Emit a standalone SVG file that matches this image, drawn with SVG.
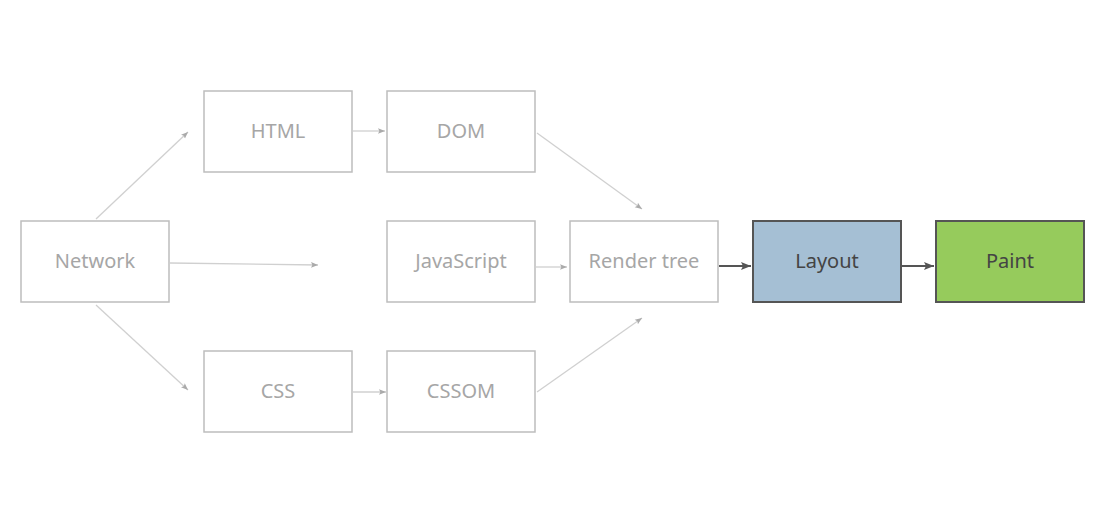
<svg xmlns="http://www.w3.org/2000/svg" width="1105" height="523" viewBox="0 0 1105 523">
<style>
.box{fill:#fff;stroke:#bdbdbd;stroke-width:1.5}
.lbl{font-family:"Noto Sans","Open Sans",sans-serif;font-size:20px;fill:#a6a6a6;text-anchor:middle}
.dk{fill:#444}
.dbox{stroke:#555;stroke-width:2}
.ln{fill:none;stroke:#d0d0d0;stroke-width:1.3;marker-end:url(#al)}
.dl{fill:none;stroke:#555;stroke-width:2;marker-end:url(#ad)}
</style>
<defs>
<marker id="al" viewBox="0 0 10 10" refX="10" refY="5" markerWidth="7" markerHeight="7" orient="auto" markerUnits="userSpaceOnUse"><path d="M0,1 L10,5 L0,9 L2,5 z" fill="#aaa"/></marker>
<marker id="ad" viewBox="0 0 10 10" refX="10" refY="5" markerWidth="10" markerHeight="10" orient="auto" markerUnits="userSpaceOnUse"><path d="M0,1 L10,5 L0,9 L2,5 z" fill="#555"/></marker>
</defs>
<rect width="1105" height="523" fill="#fff"/>
<g id="connectors">
<path class="ln" d="M96,219 L188,132"/>
<path class="ln" d="M170,263 L318,265"/>
<path class="ln" d="M96,305 L188,390"/>
<path class="ln" d="M353,131 L385,131"/>
<path class="ln" d="M537,133 L642,209"/>
<path class="ln" d="M536,267 L567,267"/>
<path class="ln" d="M537,392 L642,318"/>
<path class="ln" d="M353,392 L386,392"/>
<path class="dl" d="M719,266 L751,266"/>
<path class="dl" d="M902,266 L934,266"/>
</g>
<g id="network"><rect class="box" x="21" y="221" width="148" height="81"/><text class="lbl" x="95" y="268">Network</text></g>
<g id="html"><rect class="box" x="204" y="91" width="148" height="81"/><text class="lbl" x="278" y="138">HTML</text></g>
<g id="dom"><rect class="box" x="387" y="91" width="148" height="81"/><text class="lbl" x="461" y="138">DOM</text></g>
<g id="javascript"><rect class="box" x="387" y="221" width="148" height="81"/><text class="lbl" x="461" y="268">JavaScript</text></g>
<g id="rendertree"><rect class="box" x="570" y="221" width="148" height="81"/><text class="lbl" x="644" y="268">Render tree</text></g>
<g id="layout"><rect class="dbox" fill="#a5bfd4" x="753" y="221" width="148" height="81"/><text class="lbl dk" x="827" y="268">Layout</text></g>
<g id="paint"><rect class="dbox" fill="#96cb5c" x="936" y="221" width="148" height="81"/><text class="lbl dk" x="1010" y="268">Paint</text></g>
<g id="css"><rect class="box" x="204" y="351" width="148" height="81"/><text class="lbl" x="278" y="398">CSS</text></g>
<g id="cssom"><rect class="box" x="387" y="351" width="148" height="81"/><text class="lbl" x="461" y="398">CSSOM</text></g>
</svg>
